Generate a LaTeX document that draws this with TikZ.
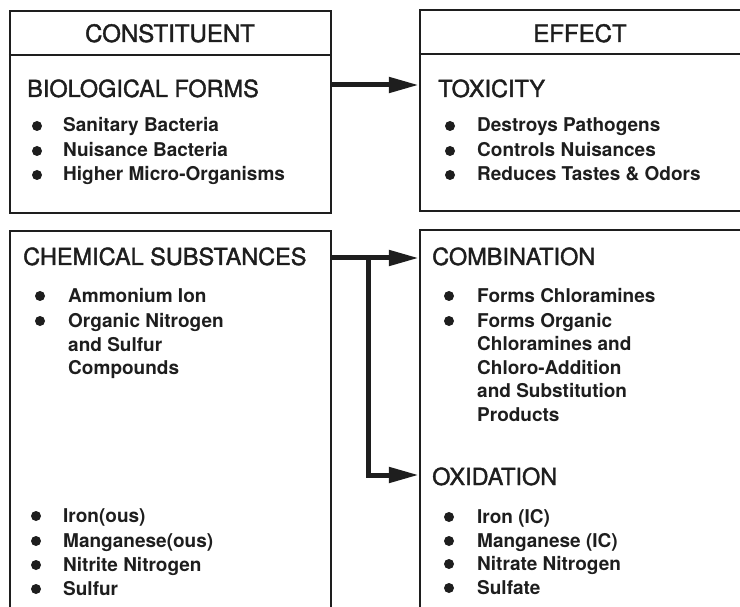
\documentclass[tikz,border=0pt]{standalone}
\usepackage{fontspec}
\setmainfont{TeX Gyre Heros}
\newfontfamily\medfont{TeX Gyre Heros}[FakeBold=1.6]
\usetikzlibrary{arrows.meta}
\definecolor{ink}{HTML}{1E1E1E}
\begin{document}
\begin{tikzpicture}[x=1pt,y=-1pt,
  boxn/.style={draw=ink, line width=2.4pt, inner sep=0pt, rectangle},
  head/.style={font=\medfont\fontsize{24}{28}\selectfont, text=ink, anchor=base, inner sep=0pt},
  ttl/.style={font=\medfont\fontsize{23.5}{28}\selectfont, text=ink, anchor=base west, inner sep=0pt},
  item/.style={font=\fontsize{19}{24}\bfseries\selectfont, text=ink, anchor=base west, inner sep=0pt},
  dot/.style={circle, fill=ink, inner sep=0pt, minimum size=10pt},
  arr/.style={draw=ink, line width=5pt, -{Triangle[length=30pt,width=15pt]}},
  link/.style={draw=ink, line width=5pt}]
\useasboundingbox (0,0) rectangle (740,607);
\clip (0,0) rectangle (740,607);
% boxes
\node[boxn, minimum width=321pt, minimum height=202pt] (lt) at (170.5,112) {};
\node[boxn, minimum width=330pt, minimum height=201pt] (rt) at (585,110.5) {};
\node[boxn, minimum width=321pt, minimum height=409pt] (lb) at (170.5,435.5) {};
\node[boxn, minimum width=330pt, minimum height=410pt] (rb) at (585,435) {};
\draw[draw=ink, line width=2.4pt] (lt.west |- 0,55) -- (lt.east |- 0,55);
\draw[draw=ink, line width=2.4pt] (rt.west |- 0,54) -- (rt.east |- 0,54);
% headers
\node[head] (hc) at (170,42) {CONSTITUENT};
\node[head] (he) at (580,42) {EFFECT};
% left top
\node[ttl] (bio) at (27,97) {BIOLOGICAL FORMS};
\node[dot] (b1) at (37,126) {}; \node[item] (t1) at (63,132) {Sanitary Bacteria};
\node[dot] (b2) at (37,151) {}; \node[item] (t2) at (63,157) {Nuisance Bacteria};
\node[dot] (b3) at (37,175) {}; \node[item] (t3) at (63,181) {Higher Micro-Organisms};
% right top
\node[ttl] (tox) at (438,97) {TOXICITY};
\node[dot] (b4) at (450,126) {}; \node[item] (t4) at (477,132) {Destroys Pathogens};
\node[dot] (b5) at (450,151) {}; \node[item] (t5) at (477,157) {Controls Nuisances};
\node[dot] (b6) at (450,175) {}; \node[item] (t6) at (477,181) {Reduces Tastes \& Odors};
% left bottom
\node[ttl] (chem) at (23,265) {CHEMICAL SUBSTANCES};
\node[dot] (b7) at (40,296) {}; \node[item] (t7) at (68,302) {Ammonium Ion};
\node[dot] (b8) at (40,321) {}; \node[item] (t8) at (68,327) {Organic Nitrogen};
\node[item] (t8b) at (68,351) {and Sulfur};
\node[item] (t8c) at (68,374) {Compounds};
\node[dot] (b9) at (36,516) {}; \node[item] (t9) at (63,522) {Iron(ous)};
\node[dot] (b10) at (36,541) {}; \node[item] (t10) at (63,547) {Manganese(ous)};
\node[dot] (b11) at (36,565) {}; \node[item] (t11) at (63,571) {Nitrite Nitrogen};
\node[dot] (b12) at (36,589) {}; \node[item] (t12) at (63,595) {Sulfur};
% right bottom
\node[ttl] (comb) at (432,265) {COMBINATION};
\node[dot] (b13) at (449,296) {}; \node[item] (t13) at (477,302) {Forms Chloramines};
\node[dot] (b14) at (449,321) {}; \node[item] (t14) at (477,327) {Forms Organic};
\node[item] (t14b) at (477,350) {Chloramines and};
\node[item] (t14c) at (477,374) {Chloro-Addition};
\node[item] (t14d) at (477,397) {and Substitution};
\node[item] (t14e) at (477,421) {Products};
\node[ttl] (oxi) at (432,485) {OXIDATION};
\node[dot] (b15) at (449,517) {}; \node[item] (t15) at (477,523) {Iron (IC)};
\node[dot] (b16) at (449,541) {}; \node[item] (t16) at (477,547) {Manganese (IC)};
\node[dot] (b17) at (449,564) {}; \node[item] (t17) at (477,570) {Nitrate Nitrogen};
\node[dot] (b18) at (449,588) {}; \node[item] (t18) at (477,594) {Sulfate};
% connectors
\coordinate (s1) at (lt.east |- 0,85);
\coordinate (s2) at (lb.east |- 0,258);
\coordinate (j) at (368,258);
\coordinate (k) at (368,475);
\draw[arr] (s1) -- (s1 -| rt.west);
\draw[arr] (s2) -- (s2 -| rb.west);
\draw[link, line cap=rect] (j) -- (k);
\draw[arr] (k) -- (k -| rb.west);
\end{tikzpicture}
\end{document}
